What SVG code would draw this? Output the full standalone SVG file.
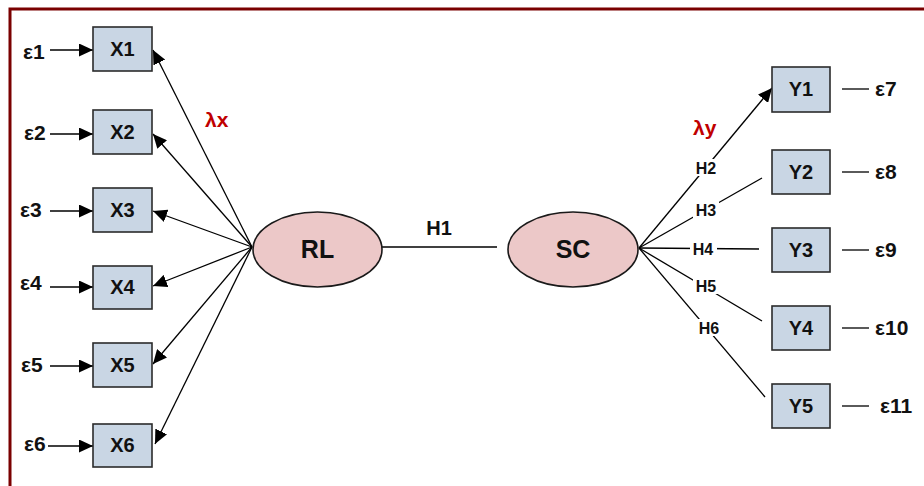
<svg xmlns="http://www.w3.org/2000/svg" width="924" height="486" viewBox="0 0 924 486">
  <defs>
    <marker id="arr" markerUnits="userSpaceOnUse" markerWidth="15" markerHeight="13" refX="14" refY="6.5" orient="auto">
      <path d="M0,0 L14,6.5 L0,13 Z" fill="#000"/>
    </marker>
    <style>
      .box{fill:#c9d6e4;stroke:#2b2b2b;stroke-width:1.6}
      .ell{fill:#ecc8c8;stroke:#1a1a1a;stroke-width:1.6}
      .t{font-family:"Liberation Sans",Arial,sans-serif;font-weight:bold;fill:#111}
      .node{font-size:20px;text-anchor:middle}
      .big{font-size:25px;text-anchor:middle}
      .eps{font-size:21px}
      .h{font-size:16px;text-anchor:middle}
      .lam{font-family:"Liberation Sans",Arial,sans-serif;font-weight:bold;font-size:21px;fill:#c00000}
      .ln{stroke:#000;stroke-width:1.3;fill:none}
      .lbg{fill:#fff}
    </style>
  </defs>
  <rect width="924" height="486" fill="#fff"/>
  <path d="M10,486 V9 H924" fill="none" stroke="#7a0000" stroke-width="3"/>

  <g id="connectors">
    <line class="ln" x1="50" y1="50" x2="93" y2="50" marker-end="url(#arr)"/>
    <line class="ln" x1="50" y1="134" x2="93" y2="134" marker-end="url(#arr)"/>
    <line class="ln" x1="50" y1="211" x2="93" y2="211" marker-end="url(#arr)"/>
    <line class="ln" x1="50" y1="287" x2="93" y2="287" marker-end="url(#arr)"/>
    <line class="ln" x1="50" y1="366" x2="93" y2="366" marker-end="url(#arr)"/>
    <line class="ln" x1="48" y1="446" x2="93" y2="446" marker-end="url(#arr)"/>

    <line class="ln" x1="252" y1="247" x2="153" y2="50" marker-end="url(#arr)"/>
    <line class="ln" x1="252" y1="247" x2="153" y2="134" marker-end="url(#arr)"/>
    <line class="ln" x1="252" y1="247" x2="153" y2="211" marker-end="url(#arr)"/>
    <line class="ln" x1="252" y1="247" x2="153" y2="286" marker-end="url(#arr)"/>
    <line class="ln" x1="252" y1="247" x2="153" y2="364" marker-end="url(#arr)"/>
    <line class="ln" x1="252" y1="247" x2="155" y2="444" marker-end="url(#arr)"/>

    <line class="ln" x1="382" y1="247" x2="497" y2="247"/>

    <line class="ln" x1="639" y1="248" x2="772" y2="88" marker-end="url(#arr)"/>
    <line class="ln" x1="639" y1="248" x2="762" y2="178"/>
    <line class="ln" x1="639" y1="248" x2="759" y2="249"/>
    <line class="ln" x1="639" y1="248" x2="762" y2="321"/>
    <line class="ln" x1="639" y1="248" x2="765" y2="397"/>

    <line class="ln" x1="842" y1="89" x2="869" y2="89"/>
    <line class="ln" x1="842" y1="172" x2="869" y2="172"/>
    <line class="ln" x1="842" y1="250" x2="869" y2="250"/>
    <line class="ln" x1="842" y1="328" x2="869" y2="328"/>
    <line class="ln" x1="842" y1="406" x2="869" y2="406"/>

    <rect class="lbg" x="693" y="159" width="26" height="17"/>
    <rect class="lbg" x="693" y="201" width="26" height="17"/>
    <rect class="lbg" x="690" y="240" width="27" height="17"/>
    <rect class="lbg" x="693" y="277" width="26" height="17"/>
    <rect class="lbg" x="696" y="319" width="26" height="17"/>
    <text class="t h" x="706" y="174">H2</text>
    <text class="t h" x="706" y="216">H3</text>
    <text class="t h" x="703" y="255">H4</text>
    <text class="t h" x="706" y="292">H5</text>
    <text class="t h" x="709" y="334">H6</text>
    <text class="t" x="439" y="235" font-size="20" text-anchor="middle">H1</text>
    <text class="lam" x="205" y="127">λx</text>
    <text class="lam" x="693" y="135">λy</text>
  </g>

  <g id="e1"><text class="t eps" x="23" y="59">ε1</text></g>
  <g id="e2"><text class="t eps" x="24" y="140">ε2</text></g>
  <g id="e3"><text class="t eps" x="20" y="217">ε3</text></g>
  <g id="e4"><text class="t eps" x="20" y="290">ε4</text></g>
  <g id="e5"><text class="t eps" x="21" y="372">ε5</text></g>
  <g id="e6"><text class="t eps" x="24" y="451">ε6</text></g>

  <g id="X1"><rect class="box" x="93" y="27" width="59" height="44"/><text class="t node" x="122.5" y="56">X1</text></g>
  <g id="X2"><rect class="box" x="93" y="110" width="59" height="44"/><text class="t node" x="122.5" y="139">X2</text></g>
  <g id="X3"><rect class="box" x="93" y="188" width="59" height="44"/><text class="t node" x="122.5" y="217">X3</text></g>
  <g id="X4"><rect class="box" x="93" y="266" width="59" height="43"/><text class="t node" x="122.5" y="294">X4</text></g>
  <g id="X5"><rect class="box" x="93" y="343" width="59" height="44"/><text class="t node" x="122.5" y="372">X5</text></g>
  <g id="X6"><rect class="box" x="93" y="424" width="59" height="43"/><text class="t node" x="122.5" y="452">X6</text></g>

  <g id="RL"><ellipse class="ell" cx="317.5" cy="249.5" rx="64.5" ry="37.5"/><text class="t big" x="317.5" y="258">RL</text></g>
  <g id="SC"><ellipse class="ell" cx="573" cy="249.5" rx="65" ry="37.5"/><text class="t big" x="573" y="258">SC</text></g>

  <g id="Y1"><rect class="box" x="772" y="67" width="58" height="45"/><text class="t node" x="801" y="96">Y1</text></g>
  <g id="Y2"><rect class="box" x="772" y="150" width="58" height="44"/><text class="t node" x="801" y="179">Y2</text></g>
  <g id="Y3"><rect class="box" x="772" y="228" width="58" height="44"/><text class="t node" x="801" y="257">Y3</text></g>
  <g id="Y4"><rect class="box" x="772" y="306" width="58" height="44"/><text class="t node" x="801" y="335">Y4</text></g>
  <g id="Y5"><rect class="box" x="772" y="384" width="58" height="44"/><text class="t node" x="801" y="413">Y5</text></g>

  <g id="e7"><text class="t eps" x="875" y="96">ε7</text></g>
  <g id="e8"><text class="t eps" x="875" y="179">ε8</text></g>
  <g id="e9"><text class="t eps" x="875" y="257">ε9</text></g>
  <g id="e10"><text class="t eps" x="875" y="335">ε10</text></g>
  <g id="e11"><text class="t eps" x="880" y="413">ε11</text></g>
</svg>
